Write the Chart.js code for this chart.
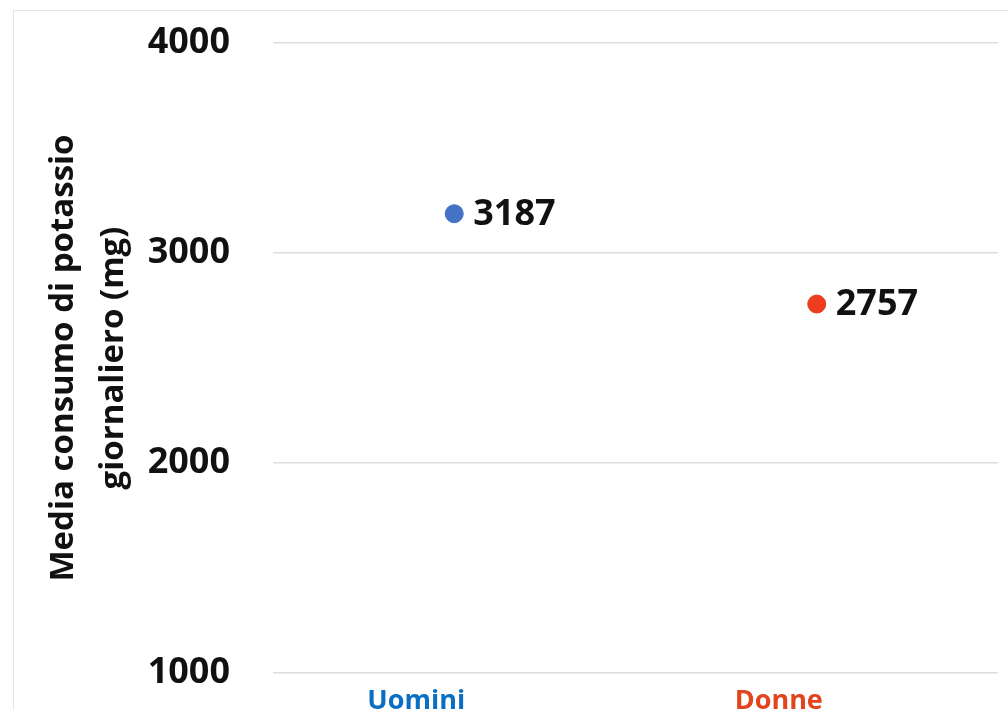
<!DOCTYPE html>
<html>
<head>
<meta charset="utf-8">
<script src="https://cdn.jsdelivr.net/npm/chart.js@4.4.1/dist/chart.umd.min.js"></script>
<style>
    html, body { margin: 0; padding: 0; background: #fff; overflow: hidden; }
    #wrap { position: relative; width: 1008px; height: 710px; overflow: hidden; }
    #frame {
        position: absolute; left: 13px; top: 10px;
        width: 1100px; height: 800px;
        border-left: 1px solid #e4e4e4; border-top: 1px solid #e4e4e4;
    }
    #potassio-chart { position: absolute; left: 0; top: 0; }
</style>
</head>
<body>
<div id="wrap">
    <div id="frame"></div>
    <canvas id="potassio-chart" width="1008" height="720"></canvas>
</div>
<script>
const categories = ['Uomini', 'Donne'];
const mediaPotassio = [3187, 2757];
const yTicks = [1000, 2000, 3000, 4000];

const pointColors = ['#4472c4', '#ec3d1f'];
const labelColors = ['#0a6fc2', '#e2451d'];
const fontFamily = '"Open Sans", "Noto Sans", sans-serif';

// writes the value to the right of each point
const valueLabels = {
    id: 'valueLabels',
    afterDatasetsDraw(chart) {
        const ctx = chart.ctx;
        const meta = chart.getDatasetMeta(0);
        ctx.save();
        ctx.font = 'bold 36px ' + fontFamily;
        ctx.fillStyle = '#111';
        ctx.textAlign = 'left';
        ctx.textBaseline = 'middle';
        meta.data.forEach((pt, i) => {
            ctx.fillText(String(chart.data.datasets[0].data[i]), pt.x + 19, pt.y + 1);
        });
        ctx.restore();
    }
};

const chart = new Chart(document.getElementById('potassio-chart'), {
    type: 'line',
    data: {
        labels: categories,
        datasets: [{
            data: mediaPotassio,
            showLine: false,
            pointRadius: 9,
            pointHoverRadius: 9,
            pointBackgroundColor: pointColors,
            pointBorderColor: pointColors,
            pointBorderWidth: 1
        }]
    },
    options: {
        responsive: false,
        animation: false,
        layout: { padding: { top: 43, right: 3, bottom: 0, left: 0 } },
        plugins: {
            legend: { display: false },
            tooltip: { enabled: false }
        },
        scales: {
            x: {
                offset: true,
                grid: { display: false },
                border: { display: false },
                ticks: {
                    padding: 4,
                    labelOffset: -38,
                    maxRotation: 0,
                    font: { family: fontFamily, size: 27, weight: 'bold' },
                    color: ctx => labelColors[ctx.index]
                },
                afterFit: scale => { scale.height = 47; }
            },
            y: {
                min: yTicks[0],
                max: yTicks[yTicks.length - 1],
                afterBuildTicks: scale => { scale.ticks = yTicks.map(v => ({ value: v })); },
                grid: { color: '#dedede', lineWidth: 1.5, drawTicks: false },
                border: { display: false },
                ticks: {
                    padding: 43,
                    font: { family: fontFamily, size: 36, weight: 'bold' },
                    color: '#111',
                    callback: v => String(v)
                },
                title: {
                    display: true,
                    text: ['Media consumo di potassio', 'giornaliero (mg)'],
                    font: { family: fontFamily, size: 33, weight: 'bold', lineHeight: 1.5 },
                    color: '#111',
                    padding: { top: 39, bottom: 0 }
                },
                // fixed axis width; tick padding must not push the plot down
                afterFit: scale => {
                    scale.width = 273;
                    scale.paddingTop = 0;
                    scale.paddingBottom = 0;
                }
            }
        }
    },
    plugins: [valueLabels]
});
</script>
</body>
</html>
